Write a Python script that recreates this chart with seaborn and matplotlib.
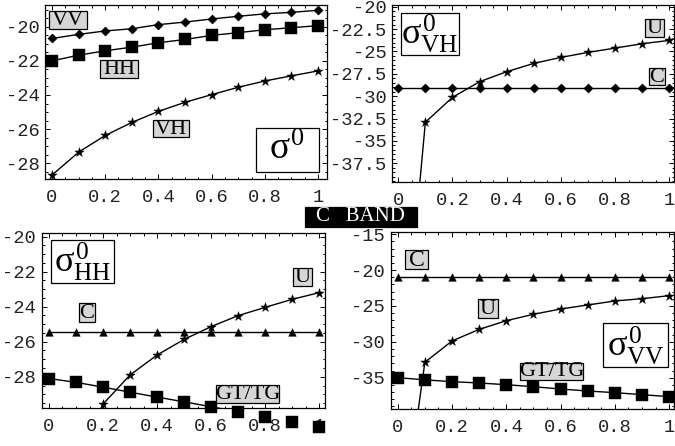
import matplotlib
matplotlib.use("Agg")
import matplotlib.pyplot as plt
from matplotlib.patches import Rectangle
from matplotlib.ticker import MultipleLocator, FuncFormatter
import pandas as pd
import seaborn as sns

# ---------------- data ----------------
x_vals = [0.0, 0.1, 0.2, 0.3, 0.4, 0.5, 0.6, 0.7, 0.8, 0.9, 1.0]

# panel 1: sigma0 (C band) for VV, HH, VH
p1_vv = [-20.69, -20.45, -20.25, -20.12, -19.88, -19.73, -19.55, -19.39, -19.25, -19.16, -19.04]
p1_hh = [-22.00, -21.67, -21.41, -21.20, -20.94, -20.75, -20.51, -20.35, -20.18, -20.06, -19.94]
p1_vh = [-28.69, -27.35, -26.37, -25.61, -24.96, -24.43, -23.98, -23.55, -23.18, -22.88, -22.59]

# panel 2: sigma0_VH, U and C
p2_u = [-66.0, -32.92, -30.13, -28.38, -27.26, -26.33, -25.66, -25.10, -24.62, -24.13, -23.76]
p2_c = [-29.05, -29.05, -29.05, -29.05, -29.05, -29.05, -29.05, -29.05, -29.05, -29.05, -29.05]

# panel 3: sigma0_HH, U, C and GT/TG
p3_u = [-60.0, -36.0, -29.56, -27.90, -26.76, -25.87, -25.14, -24.51, -24.04, -23.58, -23.20]
p3_c = [-25.45, -25.45, -25.45, -25.45, -25.45, -25.45, -25.45, -25.45, -25.45, -25.45, -25.45]
p3_gt = [-28.10, -28.32, -28.59, -28.88, -29.16, -29.43, -29.71, -30.00, -30.29, -30.57, -30.86]

# panel 4: sigma0_VV, U, C and GT/TG
p4_u = [-60.0, -32.86, -29.88, -28.26, -27.05, -26.16, -25.42, -24.86, -24.30, -23.98, -23.56]
p4_c = [-20.90, -20.90, -20.90, -20.90, -20.90, -20.90, -20.90, -20.90, -20.90, -20.90, -20.90]
p4_gt = [-35.00, -35.30, -35.56, -35.74, -35.98, -36.26, -36.58, -36.86, -37.09, -37.37, -37.65]

x_ticks = [0, 0.2, 0.4, 0.6, 0.8, 1.0]
p1_yticks = [-28, -26, -24, -22, -20]
p2_yticks = [-37.5, -35, -32.5, -30, -27.5, -25, -22.5, -20]
p3_yticks = [-28, -26, -24, -22, -20]
p4_yticks = [-35, -30, -25, -20, -15]

# ---------------- style ----------------
sns.set_style("ticks")
plt.rcParams["font.family"] = ["Liberation Serif", "DejaVu Serif"]
plt.rcParams["axes.unicode_minus"] = False
plt.rcParams["mathtext.fontset"] = "custom"
plt.rcParams["mathtext.rm"] = "Liberation Serif"
plt.rcParams["mathtext.it"] = "Liberation Serif"
plt.rcParams["mathtext.bf"] = "Liberation Serif:bold"

W, H = 675, 446
fig = plt.figure(figsize=(W / 100, H / 100), dpi=100)


def add_ax(l, r, t, b):
    return fig.add_axes([l / W, 1 - b / H, (r - l) / W, (b - t) / H])


ax1 = add_ax(45, 327, 5, 179)
ax2 = add_ax(392, 674, 5, 182)
ax3 = add_ax(41.7, 325, 233.3, 408.3)
ax4 = add_ax(390.7, 674, 232.3, 409)

limits = {
    ax1: ((-0.0263, 1.0338), (-28.92, -18.73), p1_yticks, 0.5),
    ax2: ((-0.023, 1.017), (-39.6, -19.8), p2_yticks, 0.5),
    ax3: ((-0.027, 1.022), (-29.8, -19.81), p3_yticks, 0.5),
    ax4: ((-0.0258, 1.0177), (-39.37, -14.72), p4_yticks, 1.0),
}

fmt = FuncFormatter(lambda v, p: f"{v:g}")
for ax, (xl, yl, yt, ymin) in limits.items():
    ax.set_xlim(*xl)
    ax.set_ylim(*yl)
    ax.set_xticks(x_ticks)
    ax.set_yticks(yt)
    ax.xaxis.set_minor_locator(MultipleLocator(0.05))
    ax.yaxis.set_minor_locator(MultipleLocator(ymin))
    ax.xaxis.set_major_formatter(fmt)
    ax.yaxis.set_major_formatter(fmt)
    ax.tick_params(which="both", direction="in", top=True, right=True,
                   width=0.7, color="black")
    ax.tick_params(which="major", length=3.5)
    ax.tick_params(which="minor", length=1.8)
    ax.tick_params(axis="x", pad=7)
    ax.tick_params(axis="y", pad=4)
    for lab in ax.get_xticklabels() + ax.get_yticklabels():
        lab.set_family("Liberation Mono")
        lab.set_fontsize(13.5)
        lab.set_color("#222222")
    for sp in ax.spines.values():
        sp.set_visible(True)
        sp.set_linewidth(0.9)
        sp.set_color("black")
    ax.set_xlabel("")
    ax.set_ylabel("")


def series(ax, ys, marker, ms, clip_markers=True):
    df = pd.DataFrame({"x": x_vals, "y": ys})
    sns.lineplot(data=df, x="x", y="y", ax=ax, color="black", linewidth=1.0,
                 zorder=2)
    sns.scatterplot(data=df, x="x", y="y", ax=ax, marker=marker, s=ms,
                    color="black", edgecolor="black", linewidth=0.3,
                    zorder=3)
    coll = ax.collections[-1]
    if not clip_markers:
        coll.set_clip_on(False)
        coll.set_zorder(5)
    ax.set_xlabel("")
    ax.set_ylabel("")


series(ax1, p1_vv, "D", 22)
series(ax1, p1_hh, "s", 75)
series(ax1, p1_vh, "*", 50)

series(ax2, p2_c, "D", 22)
series(ax2, p2_u, "*", 50)

series(ax3, p3_c, "^", 30)
series(ax3, p3_u, "*", 50)
series(ax3, p3_gt, "s", 75, clip_markers=False)

series(ax4, p4_c, "^", 30)
series(ax4, p4_u, "*", 50)
series(ax4, p4_gt, "s", 75)

# bring squares of panel 3 above the neighbouring tick labels
ax3.set_zorder(2)


# ---------------- labels ----------------
def box_label(l, r, t, b, text, face="#d6d6d6", tcolor="black", size=16,
              lw=0.9, dy=0.0):
    fig.patches.append(Rectangle((l / W, 1 - b / H), (r - l) / W, (b - t) / H,
                                 transform=fig.transFigure, facecolor=face,
                                 edgecolor="black", linewidth=lw, zorder=10))
    fig.text((l + r) / 2 / W, 1 - ((t + b) / 2 + dy) / H, text, ha="center",
             va="center", color=tcolor, fontsize=size,
             family="Liberation Serif", zorder=11)


box_label(49, 87, 11, 29, "VV", dy=0.5)
box_label(100, 138, 60, 78, "HH", dy=0.5)
box_label(153, 189, 120, 137, "VH", dy=0.5)
box_label(256, 319, 128, 172, r"$\sigma^{0}$", face="white", size=27)

box_label(400.7, 459, 13.3, 55, r"$\sigma^{0}_{\mathrm{VH}}$", face="white", size=26)
box_label(645, 664, 19, 37, "U", dy=0.5)
box_label(649, 665, 68, 85, "C", dy=0.5)

box_label(50.7, 114.3, 240, 283.3, r"$\sigma^{0}_{\mathrm{HH}}$", face="white", size=26)
box_label(79, 95, 303, 322, "C", dy=0.5)
box_label(293, 312, 268, 286, "U", dy=0.5)
box_label(216, 279.3, 385, 403.3, "GT/TG", dy=0.5)

box_label(405, 428.3, 250, 269, "C", size=17, dy=0.5)
box_label(478, 497.7, 299, 318.3, "U", dy=0.5)
box_label(520, 583, 363, 380, "GT/TG", dy=0.5)
box_label(603.3, 667.7, 323.3, 367.3, r"$\sigma^{0}_{\mathrm{VV}}$", face="white", size=26)

box_label(305, 416.7, 206.7, 227.3, "C   BAND", face="black", tcolor="white", size=15)

fig.savefig("out.png", dpi=100)
